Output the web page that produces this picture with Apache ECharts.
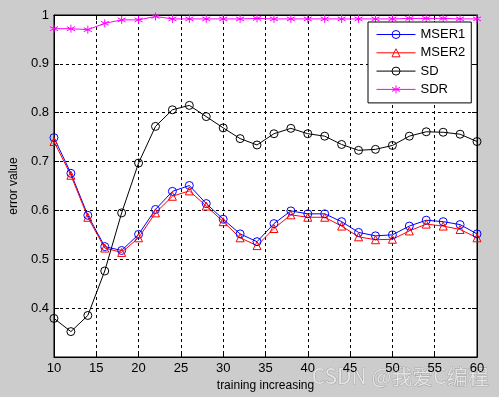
<!DOCTYPE html>
<html><head><meta charset="utf-8">
<script src="https://cdn.jsdelivr.net/npm/echarts@6/dist/echarts.min.js"></script>
<style>html,body{margin:0;padding:0;background:#cccccc}#c{width:499px;height:397px}</style>
</head><body><div id="c"></div>
<script>
const xVals = [10,12,14,16,18,20,22,24,26,28,30,32,34,36,38,40,42,44,46,48,50,52,54,56,58,60];
const mser1 = [0.749,0.676,0.590,0.526,0.518,0.551,0.602,0.639,0.651,0.614,0.582,0.552,0.536,0.573,0.599,0.593,0.593,0.577,0.555,0.548,0.550,0.568,0.580,0.577,0.571,0.552];
const mser2 = [0.741,0.672,0.586,0.523,0.514,0.544,0.595,0.629,0.640,0.609,0.577,0.544,0.528,0.563,0.591,0.586,0.586,0.568,0.546,0.540,0.541,0.558,0.572,0.568,0.561,0.544];
const sd = [0.379,0.352,0.385,0.476,0.595,0.697,0.772,0.806,0.815,0.792,0.769,0.747,0.734,0.757,0.768,0.757,0.752,0.735,0.723,0.725,0.733,0.752,0.761,0.760,0.756,0.741];
const sdr = [0.972,0.972,0.970,0.983,0.990,0.990,0.997,0.992,0.992,0.992,0.992,0.992,0.993,0.992,0.992,0.992,0.992,0.992,0.992,0.992,0.992,0.993,0.993,0.993,0.992,0.992];
const seriesNames = ['MSER1','MSER2','SD','SDR'];
const xTitle = 'training increasing';
const yTitle = 'error value';

const star = 'path://M0,-5L0,5M-4.33,-2.5L4.33,2.5M-4.33,2.5L4.33,-2.5';
const font = 'Liberation Sans, Arial, sans-serif';
function mk(name, data, color, symbol, size) {
  return {
    name, type: 'line', data: xVals.map((x,i)=>[x,data[i]]),
    symbol, symbolSize: size, showAllSymbol: true,
    lineStyle: {color, width: 1},
    itemStyle: {color: 'rgba(0,0,0,0)', borderColor: color, borderWidth: 1},
    emphasis: {disabled: true}, animation: false
  };
}
const chart = echarts.init(document.getElementById('c'));
chart.setOption({
  backgroundColor: '#cccccc',
  animation: false,
  grid: {left: 42, right: 22, top: 15, bottom: 40, show: true, backgroundColor: '#fff', borderColor: '#000', borderWidth: 1},
  legend: {
    orient: 'vertical', left: 368, top: 22,
    backgroundColor: '#fff', borderColor: '#000', borderWidth: 1, borderRadius: 0,
    padding: [6, 6, 7, 8], itemWidth: 39, itemHeight: 10, itemGap: 5.3,
    lineStyle: {width: 1},
    itemStyle: {borderWidth: 1},
    textStyle: {fontFamily: font, fontSize: 13, color: '#000'},
    data: seriesNames
  },
  xAxis: [{
    type: 'value', min: 10, max: 60, interval: 5,
    name: xTitle, nameLocation: 'middle', nameGap: 22,
    nameTextStyle: {fontFamily: font, fontSize: 12, color: '#000'},
    axisLine: {show: true, lineStyle: {color: '#000'}},
    axisTick: {show: true, inside: true, length: 5, lineStyle: {color: '#000'}},
    axisLabel: {fontFamily: font, fontSize: 13, color: '#000', margin: 5},
    splitLine: {show: true, lineStyle: {color: '#000', type: [3,3], width: 1}}
  },{
    type: 'value', min: 10, max: 60, interval: 5, position: 'top',
    axisLine: {show: true, lineStyle: {color: '#000'}},
    axisTick: {show: true, inside: true, length: 5, lineStyle: {color: '#000'}},
    axisLabel: {show: false}, splitLine: {show: false}
  }],
  yAxis: [{
    type: 'value', min: 0.3, max: 1, interval: 0.1,
    name: yTitle, nameLocation: 'middle', nameGap: 32, nameRotate: 90,
    nameTextStyle: {fontFamily: font, fontSize: 12, color: '#000'},
    axisLine: {show: true, lineStyle: {color: '#000'}},
    axisTick: {show: true, inside: true, length: 5, lineStyle: {color: '#000'}},
    axisLabel: {fontFamily: font, fontSize: 13, color: '#000', margin: 5, showMinLabel: false},
    splitLine: {show: true, lineStyle: {color: '#000', type: [3,3], width: 1}}
  },{
    type: 'value', min: 0.3, max: 1, interval: 0.1, position: 'right',
    axisLine: {show: true, lineStyle: {color: '#000'}},
    axisTick: {show: true, inside: true, length: 5, lineStyle: {color: '#000'}},
    axisLabel: {show: false}, splitLine: {show: false}
  }],
  series: [
    mk('MSER1', mser1, '#0000ff', 'circle', 8),
    mk('MSER2', mser2, '#ff0000', 'triangle', 8),
    mk('SD', sd, '#000000', 'circle', 8),
    mk('SDR', sdr, '#ff00ff', star, 8)
  ],
  graphic: [{
    type: 'text', right: 10, bottom: 10, silent: true,
    style: {text: 'CSDN @我爱C编程', font: '21px "Noto Sans CJK SC", sans-serif', fill: 'rgba(240,240,240,0.75)', stroke: 'rgba(110,110,110,0.55)', lineWidth: 0.7}
  }]
});
</script></body></html>
